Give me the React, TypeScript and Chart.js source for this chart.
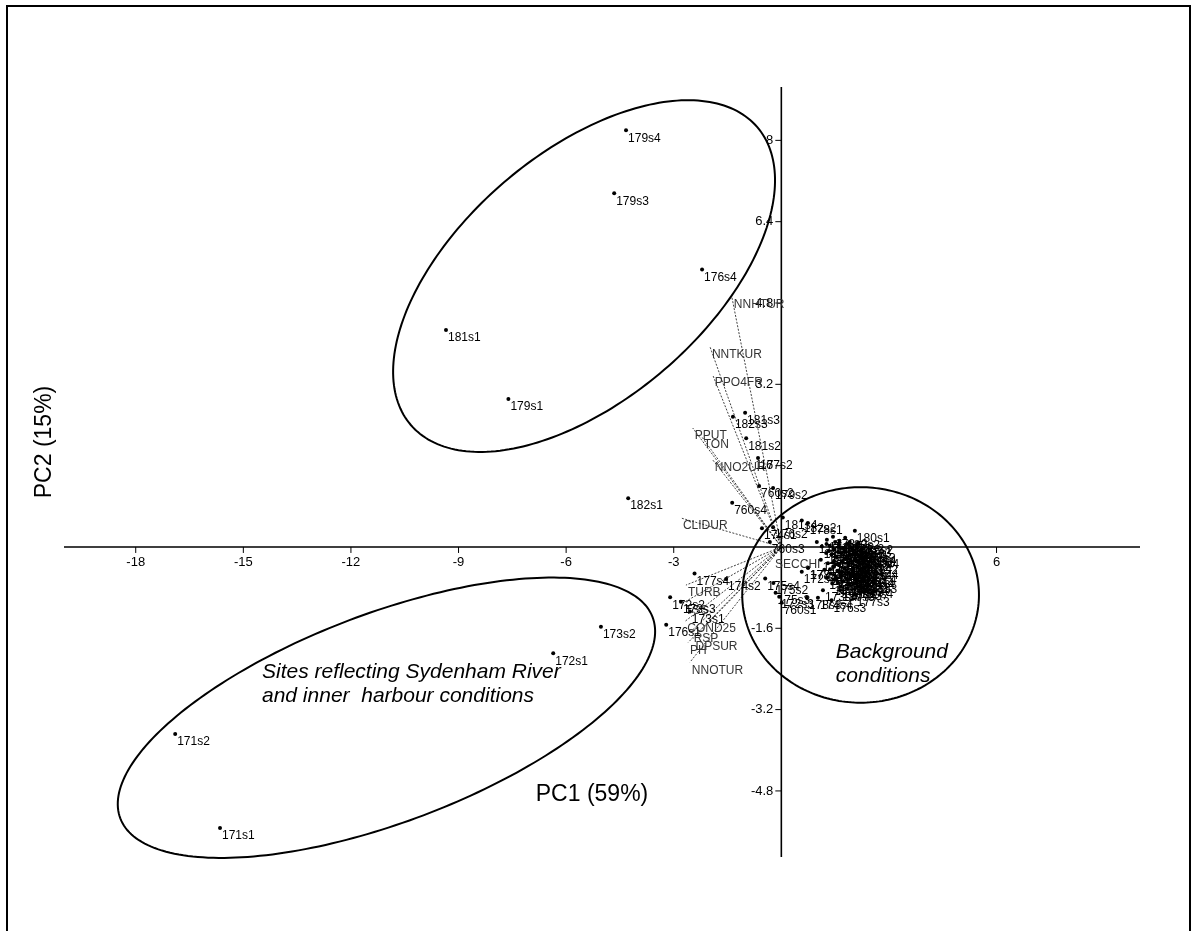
import React, { useEffect, useRef } from 'react';
import { Chart, registerables } from 'chart.js';

Chart.register(...registerables);

const X_MIN = -20;
const X_MAX = 10;
const Y_MIN = -6.1;
const Y_MAX = 9.05;

const xTicks = [-18, -15, -12, -9, -6, -3, 3, 6];
const yTicks = [-4.8, -3.2, -1.6, 1.6, 3.2, 4.8, 6.4, 8];

const siteLabels = [
  '179s4', '179s3', '176s4', '181s1', '179s1', '182s1', '173s2', '172s1', '171s2', '171s1',
  '181s3', '182s3', '181s2', '177s2', '760s2', '179s2', '760s4', '174s1', '181s4', '182s2',
  '178s1', '176s2', '760s3', '175s1', '174s3', '178s2', '180s1', '180s2', '177s4', '174s2',
  '175s4', '172s2', '173s3', '173s1', '176s1', '175s2', '175s3', '172s3', '760s1', '177s1',
  '172s4', '178s3', '174s4', '173s4', '180s3', '176s3', '177s3',
  '178s4', '180s4', '181s4', '182s4', '180s3', '178s3', '181s3', '182s3', '174s4', '175s4',
  '173s4', '176s3', '177s3', '180s2', '181s2', '182s2', '178s2', '174s3', '175s3', '172s4',
  '178s4', '180s4', '181s4', '182s4', '176s4', '177s4', '178s3', '180s3', '181s3', '182s3',
  '174s4', '175s4', '173s4', '177s3', '176s3', '178s3', '180s4', '182s4', '181s4', '174s1',
  '177s1', '178s1',
  '180s2', '181s2', '178s2', '182s2', '174s3', '180s3', '176s4', '178s4', '181s4', '173s3',
  '175s3', '180s3', '182s4', '174s4', '177s3', '178s3', '176s3', '180s4', '173s4', '175s4',
  '178s4', '182s4', '181s3', '176s3', '177s3', '181s4', '180s4', '179s2', '174s2', '182s3'
];
const siteX = [
  -4.33, -4.66, -2.21, -9.35, -7.61, -4.27, -5.03, -6.36, -16.9, -15.65,
  -1.01, -1.35, -0.98, -0.65, -0.62, -0.23, -1.37, -0.54, 0.04, 0.57,
  0.74, -0.23, -0.32, 0.99, 1.27, 1.44, 2.05, 1.78, -2.42, -1.54,
  -0.45, -3.1, -2.8, -2.55, -3.21, -0.22, -0.16, -0.06, 0.01, 0.74,
  0.57, 0.71, 1.02, 1.16, 1.64, 1.4, 2.05,
  1.35, 1.48, 1.6, 1.72, 1.85, 1.98, 2.1, 2.22, 1.4, 1.55,
  1.68, 1.8, 1.93, 2.05, 2.18, 2.28, 1.3, 1.45, 1.62, 1.75,
  1.88, 2.0, 2.12, 2.25, 1.38, 1.52, 1.66, 1.82, 1.95, 2.08,
  2.2, 1.25, 1.2, 1.1, 1.58, 1.9, 2.15, 1.42, 1.13, 1.47,
  1.54, 0.75,
  1.5, 1.62, 1.9, 2.15, 1.33, 1.58, 1.76, 2.02, 2.24, 1.47,
  1.7, 1.86, 2.12, 1.36, 1.56, 1.7, 1.96, 2.18, 1.28, 1.46,
  1.73, 2.02, 2.26, 1.65, 1.84, 2.3, 2.32, 1.92, 1.26, 1.52
];
const siteY = [
  8.2, 6.96, 5.46, 4.27, 2.91, 0.96, -1.57, -2.09, -3.68, -5.53,
  2.64, 2.56, 2.14, 1.75, 1.2, 1.16, 0.87, 0.37, 0.58, 0.52,
  0.47, 0.39, 0.1, 0.1, 0.14, 0.2, 0.32, 0.18, -0.52, -0.63,
  -0.62, -0.99, -1.08, -1.27, -1.53, -0.71, -0.9, -0.98, -1.1, -0.41,
  -0.49, -1.0, -1.0, -0.85, -0.85, -1.05, -0.94,
  0.02, -0.05, 0.05, -0.02, 0.06, -0.04, 0.02, -0.08, -0.15, -0.2,
  -0.12, -0.22, -0.16, -0.25, -0.18, -0.3, -0.32, -0.38, -0.33, -0.42,
  -0.36, -0.45, -0.4, -0.5, -0.52, -0.58, -0.55, -0.62, -0.57, -0.66,
  -0.6, -0.12, -0.45, -0.25, -0.7, -0.74, -0.78, -0.72, 0.01, -0.39,
  -0.65, -0.41,
  0.1, 0.12, 0.1, 0.08, -0.08, -0.1, -0.08, -0.12, -0.14, -0.27,
  -0.28, -0.3, -0.28, -0.44, -0.47, -0.49, -0.51, -0.56, -0.6, -0.64,
  -0.68, -0.72, -0.68, -0.78, -0.82, -0.4, -0.2, 0.0, 0.06, -0.34
];

const varLabels = [
  'NNHTUR', 'NNTKUR', 'PPO4FR', 'PPUT', 'TON', 'NNO2UR', 'CLIDUR', 'SECCHI',
  'TURB', 'TSS', 'COND25', 'RSP', 'DPSUR', 'PH', 'NNOTUR'
];
const varX = [-1.38, -1.99, -1.91, -2.47, -2.22, -1.91, -2.8, -0.23, -2.66, -2.74, -2.68, -2.5, -2.45, -2.6, -2.55];
const varY = [4.92, 3.94, 3.38, 2.34, 2.17, 1.71, 0.57, -0.2, -0.75, -1.1, -1.46, -1.65, -1.8, -1.88, -2.27];

const ellipseCX = [-5.5, -11.01, 2.21];
const ellipseCY = [5.33, -3.36, -0.944];
const ellipseUX = [4.83, 7.42, 3.3];
const ellipseUY = [2.93, 1.98, 0];
const ellipseVX = [2.24, 1.03, 0];
const ellipseVY = [-1.84, -1.92, 2.12];

const noteLines = ['Sites reflecting Sydenham River', 'and inner  harbour conditions', 'Background', 'conditions'];
const noteX = [-14.48, -14.48, 1.52, 1.52];
const noteY = [-2.46, -2.93, -2.07, -2.54];

const xTitle = 'PC1 (59%)';
const yTitle = 'PC2 (15%)';

const FONT = '"Liberation Sans", Arial, sans-serif';

const biplotPlugin = {
  id: 'biplot',
  beforeDraw(chart: any) {
    const ctx = chart.ctx;
    ctx.save();
    ctx.fillStyle = '#ffffff';
    ctx.fillRect(0, 0, chart.width, chart.height);
    ctx.strokeStyle = '#000';
    ctx.lineWidth = 2;
    ctx.strokeRect(7, 6, 1183, 940);
    ctx.restore();
  },
  beforeDatasetsDraw(chart: any) {
    const ctx = chart.ctx;
    const xs = chart.scales.x;
    const ys = chart.scales.y;
    const x0 = xs.getPixelForValue(0);
    const y0 = ys.getPixelForValue(0);
    ctx.save();
    ctx.strokeStyle = '#000';
    ctx.lineWidth = 1.6;
    ctx.beginPath();
    ctx.moveTo(xs.getPixelForValue(X_MIN), y0);
    ctx.lineTo(xs.getPixelForValue(X_MAX), y0);
    ctx.moveTo(x0, ys.getPixelForValue(Y_MAX));
    ctx.lineTo(x0, ys.getPixelForValue(Y_MIN));
    ctx.stroke();
    ctx.lineWidth = 1;
    ctx.fillStyle = '#000';
    ctx.font = '13px ' + FONT;
    ctx.textAlign = 'center';
    ctx.textBaseline = 'top';
    ctx.beginPath();
    xTicks.forEach((v) => {
      const px = xs.getPixelForValue(v);
      ctx.moveTo(px, y0);
      ctx.lineTo(px, y0 + 6);
    });
    yTicks.forEach((v) => {
      const py = ys.getPixelForValue(v);
      ctx.moveTo(x0, py);
      ctx.lineTo(x0 - 6, py);
    });
    ctx.stroke();
    xTicks.forEach((v) => {
      ctx.fillText(String(v), xs.getPixelForValue(v), y0 + 9);
    });
    ctx.textAlign = 'right';
    ctx.textBaseline = 'middle';
    yTicks.forEach((v) => {
      ctx.fillText(String(v), x0 - 8, ys.getPixelForValue(v));
    });
    ctx.restore();
  },
  afterDatasetsDraw(chart: any) {
    const ctx = chart.ctx;
    const xs = chart.scales.x;
    const ys = chart.scales.y;
    ctx.save();
    // ellipses
    ctx.strokeStyle = '#000';
    ctx.lineWidth = 2;
    for (let e = 0; e < ellipseCX.length; e++) {
      ctx.beginPath();
      for (let k = 0; k <= 240; k++) {
        const t = (k / 240) * Math.PI * 2;
        const dx = ellipseCX[e] + ellipseUX[e] * Math.cos(t) + ellipseVX[e] * Math.sin(t);
        const dy = ellipseCY[e] + ellipseUY[e] * Math.cos(t) + ellipseVY[e] * Math.sin(t);
        const px = xs.getPixelForValue(dx);
        const py = ys.getPixelForValue(dy);
        if (k === 0) ctx.moveTo(px, py);
        else ctx.lineTo(px, py);
      }
      ctx.closePath();
      ctx.stroke();
    }
    // variable labels
    ctx.font = '12px ' + FONT;
    ctx.textAlign = 'left';
    ctx.textBaseline = 'middle';
    ctx.fillStyle = '#333';
    varLabels.forEach((lab, i) => {
      const px = xs.getPixelForValue(varX[i]);
      const py = ys.getPixelForValue(varY[i]);
      ctx.fillText(lab, px + 2, py + 8);
    });
    // site labels
    ctx.fillStyle = '#000';
    siteLabels.forEach((lab, i) => {
      const px = xs.getPixelForValue(siteX[i]);
      const py = ys.getPixelForValue(siteY[i]);
      ctx.fillText(lab, px + 2, py + 8);
    });
    // notes
    ctx.font = 'italic 21px ' + FONT;
    noteLines.forEach((txt, i) => {
      ctx.fillText(txt, xs.getPixelForValue(noteX[i]), ys.getPixelForValue(noteY[i]));
    });
    // axis titles
    ctx.font = '23px ' + FONT;
    ctx.textAlign = 'center';
    ctx.fillText(xTitle, 592, 795);
    ctx.translate(45, 442);
    ctx.rotate(-Math.PI / 2);
    ctx.fillText(yTitle, 0, 0);
    ctx.restore();
  },
};

export default function App() {
  const ref = useRef<HTMLCanvasElement | null>(null);
  useEffect(() => {
    if (!ref.current) return;
    const varSets = varLabels.map((lab, i) => ({
      label: lab,
      data: [{ x: 0, y: 0 }, { x: varX[i], y: varY[i] }],
      showLine: true,
      borderColor: '#111',
      borderWidth: 0.8,
      borderDash: [2, 1.5],
      pointRadius: 0,
      fill: false,
    }));
    const chart = new Chart(ref.current, {
      type: 'scatter',
      data: {
        datasets: [
          ...varSets,
          {
            label: 'sites',
            data: siteLabels.map((_, i) => ({ x: siteX[i], y: siteY[i] })),
            pointRadius: 2,
            pointBackgroundColor: '#000',
            pointBorderWidth: 0,
            showLine: false,
          },
        ],
      } as any,
      options: {
        responsive: false,
        animation: false,
        devicePixelRatio: 1,
        events: [],
        layout: { padding: { left: 64, right: 54, top: 87, bottom: 74 } },
        plugins: { legend: { display: false }, tooltip: { enabled: false } },
        scales: {
          x: { type: 'linear', min: X_MIN, max: X_MAX, display: false },
          y: { type: 'linear', min: Y_MIN, max: Y_MAX, display: false },
        },
      },
      plugins: [biplotPlugin],
    });
    return () => chart.destroy();
  }, []);
  return (
    <div style={{ position: 'fixed', left: 0, top: 0, width: 1194, height: 931, background: '#fff' }}>
      <canvas ref={ref} width={1194} height={931} style={{ display: 'block' }} />
    </div>
  );
}
